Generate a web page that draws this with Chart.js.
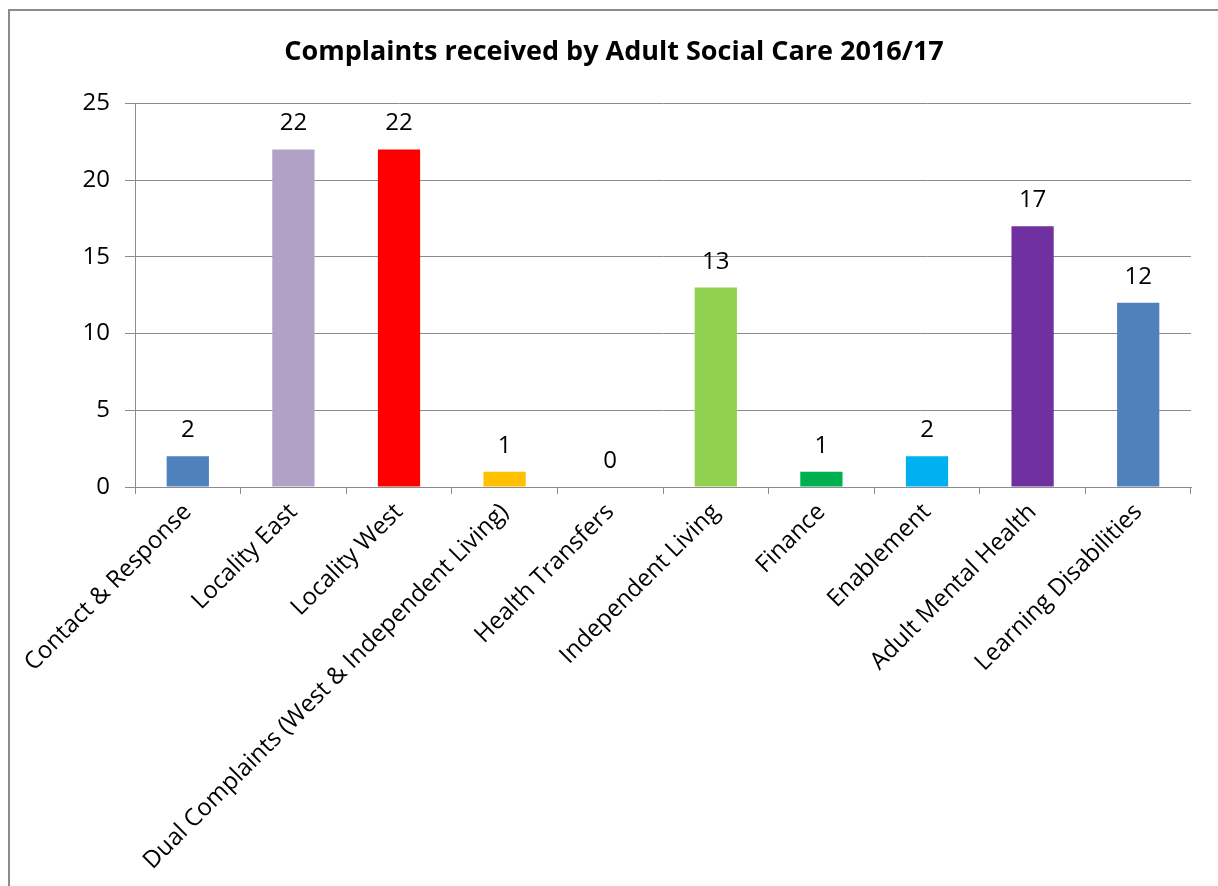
<!DOCTYPE html>
<html>
<head>
<meta charset="utf-8">
<title>Complaints received by Adult Social Care 2016/17</title>
<script src="https://cdn.jsdelivr.net/npm/chart.js@4.4.0/dist/chart.umd.min.js"></script>
<style>
  body { margin: 0; background: #fff; overflow: hidden; }
  #frame { position: absolute; left: 8px; top: 9px; width: 1240px; height: 900px; border: 2px solid #8c8c8c; }
  #wrap { position: absolute; left: 0; top: 0; width: 1218px; height: 886px; }
</style>
</head>
<body>
<div id="frame"></div>
<div id="wrap"><canvas id="complaintsChart"></canvas></div>

<script>
// Service areas and number of complaints
const categories = [
  "Contact & Response",
  "Locality East",
  "Locality West",
  "Dual Complaints (West & Independent Living)",
  "Health Transfers",
  "Independent Living",
  "Finance",
  "Enablement",
  "Adult Mental Health",
  "Learning Disabilities"
];
const complaints = [2, 22, 22, 1, 0, 13, 1, 2, 17, 12];
const barColours = ["#4F81BD", "#B2A1C7", "#FF0000", "#FFC000", "#F79646",
                    "#92D050", "#00B050", "#00B0F0", "#7030A0", "#4F81BD"];
const yTicks = [0, 5, 10, 15, 20, 25];

const FONT = "'Open Sans'";
const GREY = "#8c8c8c";

// value labels above each bar
const valueLabels = {
  id: "valueLabels",
  afterDatasetsDraw(chart) {
    const ctx = chart.ctx;
    const meta = chart.getDatasetMeta(0);
    ctx.save();
    ctx.font = "24px " + FONT;
    ctx.fillStyle = "#000";
    ctx.textAlign = "center";
    ctx.textBaseline = "alphabetic";
    meta.data.forEach((bar, i) => {
      ctx.fillText(String(complaints[i]), bar.x, bar.y - 19);
    });
    ctx.restore();
  }
};

new Chart(document.getElementById("complaintsChart"), {
  type: "bar",
  data: {
    labels: categories,
    datasets: [{
      data: complaints,
      backgroundColor: barColours,
      borderWidth: 0,
      categoryPercentage: 1,
      barPercentage: 0.4
    }]
  },
  options: {
    responsive: true,
    maintainAspectRatio: false,
    animation: false,
    layout: { padding: { left: 37, right: 27, top: 0, bottom: 0 } },
    plugins: {
      legend: { display: false },
      tooltip: { enabled: false },
      title: {
        display: true,
        text: "Complaints received by Adult Social Care 2016/17",
        color: "#000",
        font: { family: FONT, size: 27, weight: "bold" },
        padding: { top: 36, bottom: 35 }
      }
    },
    scales: {
      x: {
        afterFit(scale) { scale.height = 399; },
        grid: { drawOnChartArea: false, offset: true, tickLength: 7, color: GREY },
        border: { color: GREY },
        ticks: {
          autoSkip: false,
          minRotation: 45,
          maxRotation: 45,
          padding: 4,
          color: "#000",
          font: { family: FONT, size: 24 }
        }
      },
      y: {
        min: 0,
        max: 25,
        afterFit(scale) { scale.width = 98; },
        afterBuildTicks(scale) { scale.ticks = yTicks.map(v => ({ value: v })); },
        grid: { color: GREY, tickLength: 10 },
        border: { color: GREY },
        ticks: {
          padding: 15,
          color: "#000",
          font: { family: FONT, size: 24 }
        }
      }
    }
  },
  plugins: [valueLabels]
});
</script>
</body>
</html>
